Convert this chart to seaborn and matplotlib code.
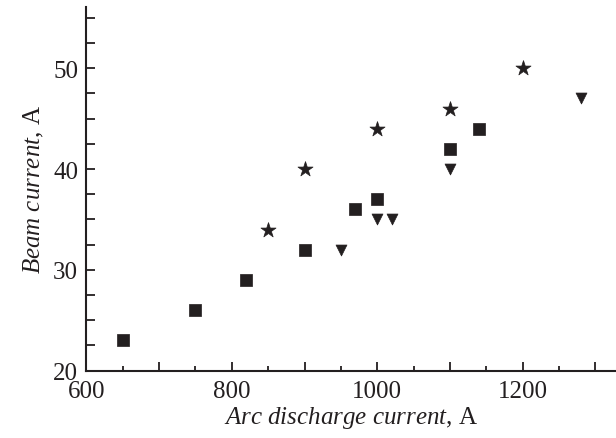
import numpy as np
import pandas as pd
import matplotlib
matplotlib.use("Agg")
import matplotlib.pyplot as plt
import matplotlib.ticker as ticker
import seaborn as sns

# data
square_x = [650, 750, 820, 900, 970, 1000, 1100, 1140]
square_y = [23, 26, 29, 32, 36, 37, 42, 44]
star_x = [850, 900, 1000, 1100, 1200]
star_y = [34, 40, 44, 46, 50]
tri_x = [950, 1000, 1020, 1100, 1280]
tri_y = [32, 35, 35, 40, 47]

ink = "#231f20"

sns.set_style("ticks")
plt.rcParams["font.family"] = ["Liberation Serif", "DejaVu Serif"]
plt.rcParams["mathtext.fontset"] = "custom"
plt.rcParams["mathtext.rm"] = "Liberation Serif"
plt.rcParams["mathtext.it"] = "Liberation Serif:italic"

df = pd.concat([
    pd.DataFrame({"x": square_x, "y": square_y, "series": "square"}),
    pd.DataFrame({"x": star_x, "y": star_y, "series": "star"}),
    pd.DataFrame({"x": tri_x, "y": tri_y, "series": "tri"}),
], ignore_index=True)

fig = plt.figure(figsize=(6.16, 4.39), dpi=100)
ax = fig.add_axes([0.1404, 0.1533, 0.8596, 0.828])

# each series drawn separately so marker sizes can differ
sizes = {"square": 64, "star": 130, "tri": 62}
markers = {"square": "s", "star": "*", "tri": "v"}
for name, sub in df.groupby("series"):
    sns.scatterplot(data=sub, x="x", y="y", marker=markers[name], s=sizes[name],
                    color=ink, edgecolor=ink, linewidth=0.5, ax=ax, legend=False, zorder=3)

ax.set_xlim(600, 1328.6)
ax.set_ylim(20, 56.05)

ax.xaxis.set_major_locator(ticker.MultipleLocator(100))
ax.xaxis.set_minor_locator(ticker.MultipleLocator(50))
ax.xaxis.set_major_formatter(ticker.FuncFormatter(lambda v, p: f"{int(v)}" if v % 200 == 0 else ""))
ax.yaxis.set_major_locator(ticker.MultipleLocator(10))
ax.yaxis.set_minor_locator(ticker.MultipleLocator(2.5))

ax.tick_params(axis="both", which="both", direction="in", color=ink, labelcolor=ink,
               labelsize=18, width=1.3)
ax.tick_params(axis="x", which="major", length=6.5, pad=7)
ax.tick_params(axis="x", which="minor", length=3.5)
ax.tick_params(axis="y", which="both", length=6.5, pad=6)

sns.despine(ax=ax, top=True, right=True)
for side in ["left", "bottom"]:
    ax.spines[side].set_linewidth(1.5)
    ax.spines[side].set_color(ink)

ax.set_xlabel(r"$\mathit{Arc\ discharge\ current}$, A", fontsize=18, color=ink, labelpad=1)
ax.set_ylabel(r"$\mathit{Beam\ current}$, A", fontsize=18, color=ink, labelpad=5)

fig.savefig("out.png", dpi=100)
